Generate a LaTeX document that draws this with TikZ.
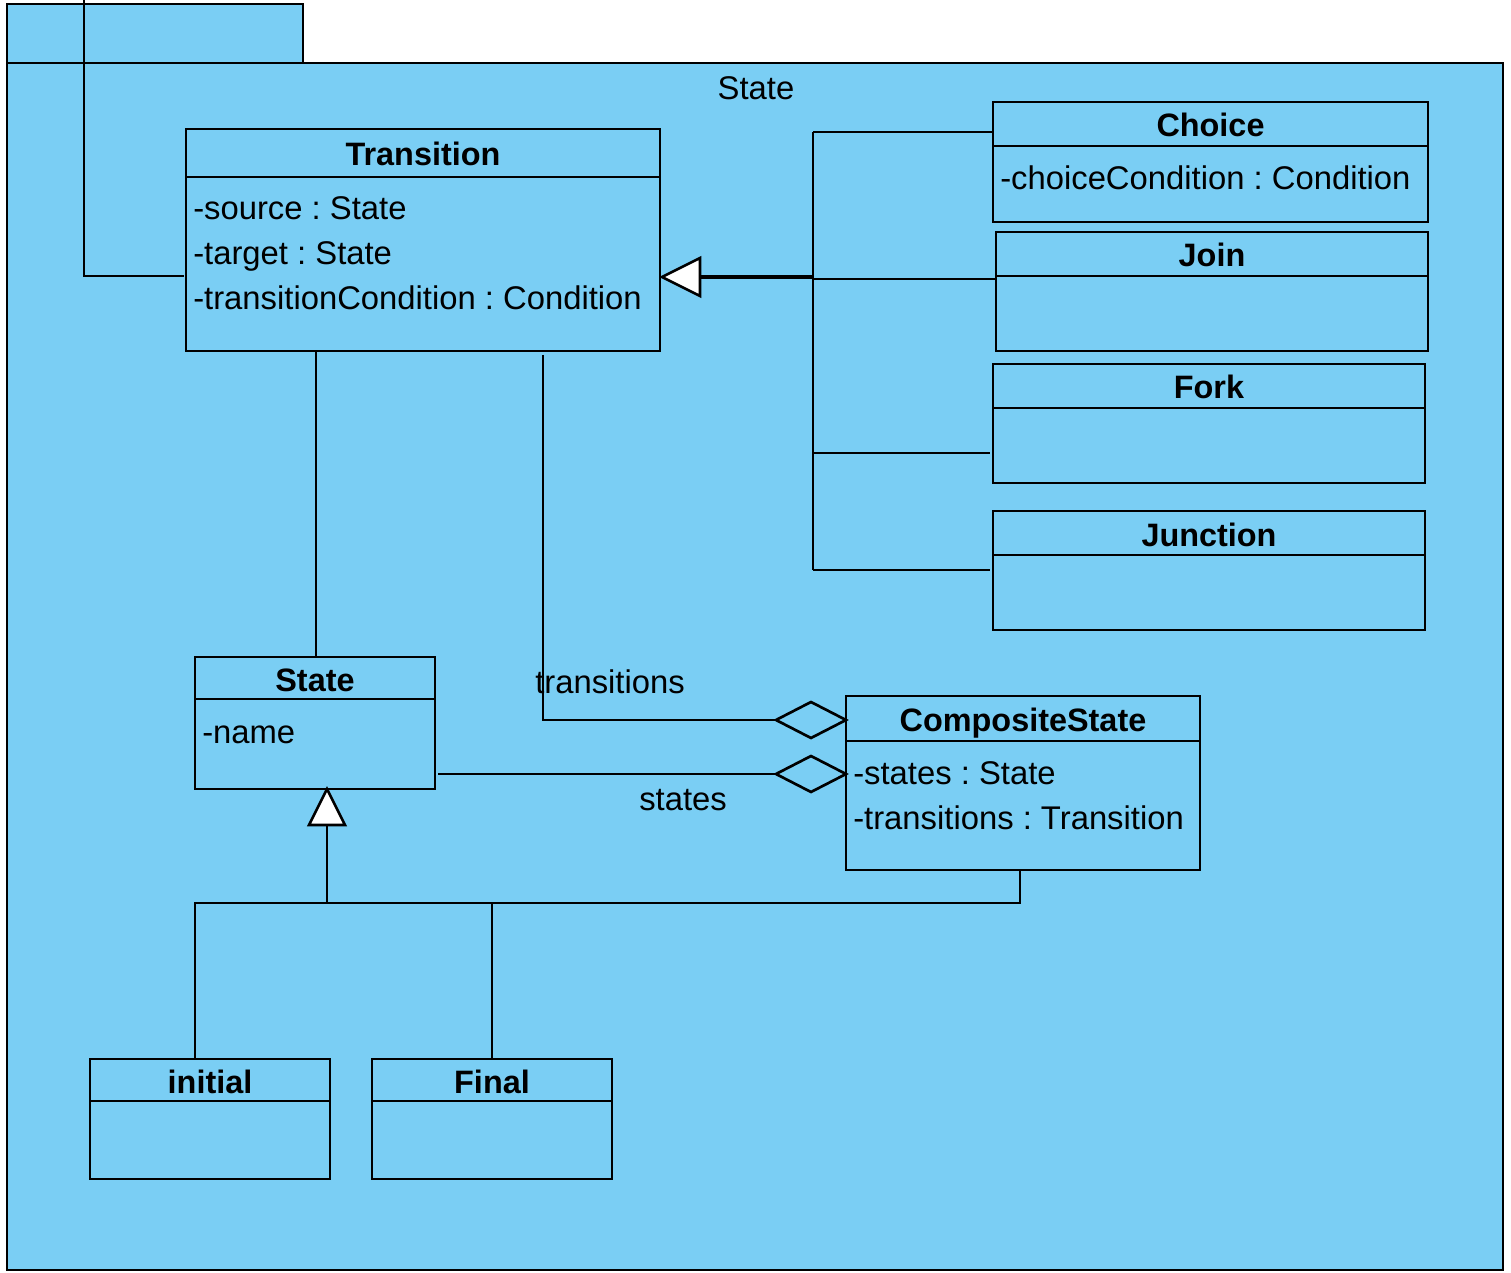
\documentclass[tikz,border=0pt]{standalone}
\usepackage{fontspec}
\setmainfont{Liberation Sans}
\frenchspacing
\usetikzlibrary{calc}
\definecolor{pkgblue}{RGB}{122,206,244}
\newcommand\umlclass[7]{%
  \node[classbox, minimum width={(#4-#2)*0.75pt}, minimum height={(#5-#3)*0.75pt}, anchor=north west] (#1) at (#2,#3) {};
  \draw[lw] (#2,#6) -- (#4,#6);
  \node[titletext] (#1-title) at ({(#2+#4)/2},{(#3+#6)/2+13}) {#7};
}
\begin{document}
\begin{tikzpicture}[x=0.75pt,y=-0.75pt,
  lw/.style={line width=2pt, line join=miter},
  classbox/.style={draw, lw, fill=pkgblue, inner sep=0pt, outer sep=0pt},
  titletext/.style={font=\fontsize{24.3}{28}\selectfont\bfseries, anchor=base, inner sep=0pt},
  attrtext/.style={font=\fontsize{24.6}{28}\selectfont, anchor=base west, inner sep=0pt},
  lbltext/.style={font=\fontsize{24.6}{28}\selectfont, anchor=base, inner sep=0pt},
  conn/.style={draw, lw},
  hollow/.style={draw, lw, fill=pkgblue},
  gentri/.style={draw, lw, fill=white}]
\useasboundingbox (0,0) rectangle (1511,1273);
% package
\path[draw, lw, fill=pkgblue] (7,4) rectangle (303,63);
\path[draw, lw, fill=pkgblue] (7,63) rectangle (1503,1270);
\node[lbltext] (pkgname) at (756,100) {State};
% classes
\umlclass{trans}{186}{129}{660}{351}{177}{Transition}
\node[attrtext] (trans-a1) at (193,220) {-source : State};
\node[attrtext] (trans-a2) at (193,265) {-target : State};
\node[attrtext] (trans-a3) at (193,310) {-transitionCondition : Condition};
\umlclass{choice}{993}{102}{1428}{222}{146}{Choice}
\node[attrtext] (choice-a1) at (1000,190) {-choiceCondition : Condition};
\umlclass{join}{996}{232}{1428}{351}{276}{Join}
\umlclass{fork}{993}{364}{1425}{483}{408}{Fork}
\umlclass{junction}{993}{511}{1425}{630}{555}{Junction}
\umlclass{state}{195}{657}{435}{789}{699}{State}
\node[attrtext] (state-a1) at (202,743) {-name};
\umlclass{comp}{846}{696}{1200}{870}{741}{CompositeState}
\node[attrtext] (comp-a1) at (853,784) {-states : State};
\node[attrtext] (comp-a2) at (853,829) {-transitions : Transition};
\umlclass{initial}{90}{1059}{330}{1179}{1101}{initial}
\umlclass{final}{372}{1059}{612}{1179}{1101}{Final}
% self association leaving the top
\coordinate (selftop) at (84,0);
\coordinate (selfbend) at (84,276);
\draw[conn] (selftop) -- (selfbend) -- ($(selfbend -| trans.west)+(-2,0)$);
% Transition -- State
\draw[conn] ($(trans.south west)+(130,0)$) -- ($(state.north west)+(121,0)$);
% transitions aggregation
\coordinate (tr0) at ($(trans.south west)+(357,4)$);
\coordinate (trtip) at ($(comp.north west)+(0,24)$);
\coordinate (trdl) at ($(trtip)+(-70,0)$);
\draw[conn] (tr0) -- (tr0 |- trtip) -- (trdl);
\path[hollow] (trtip) -- ++(-35,-18) -- ++(-35,18) -- ++(35,18) -- cycle;
\node[lbltext] (trlbl) at (610,693) {transitions};
% states aggregation
\coordinate (st0) at ($(state.south east)+(3,-15)$);
\coordinate (sttip) at (st0 -| comp.west);
\coordinate (stdl) at ($(sttip)+(-70,0)$);
\draw[conn] (st0) -- (stdl);
\path[hollow] (sttip) -- ++(-35,-18) -- ++(-35,18) -- ++(35,18) -- cycle;
\node[lbltext] (stlbl) at (683,810) {states};
% generalization to State
\coordinate (sgtip) at ($(state.south west)+(132,0)$);
\coordinate (sgbase) at ($(sgtip)+(0,36)$);
\coordinate (sgjoin) at (327,903);
\coordinate (compbot) at ($(comp.south)+(-3,0)$);
\draw[conn] (sgbase) -- (sgjoin);
\draw[conn] (initial.north -| state.west) |- (sgjoin) -- (sgjoin -| compbot) -- (compbot);
\draw[conn] (final.north) -- (final.north |- sgjoin);
\path[gentri] (sgtip) -- ($(sgbase)+(-18,0)$) -- ($(sgbase)+(18,0)$) -- cycle;
% generalization to Transition
\coordinate (tgtip) at ($(trans.east)+(2,37)$);
\coordinate (tgbase) at ($(tgtip)+(38,0)$);
\coordinate (tgtree) at (813,277);
\draw[line width=3.3pt] (tgtree) -- (tgbase);
\path[gentri] (tgtip) -- ($(tgbase)+(0,-19)$) -- ($(tgbase)+(0,19)$) -- cycle;
\coordinate (treetop) at (813,132);
\coordinate (treebot) at (813,570);
\draw[conn] (treetop) -- (treebot);
\draw[conn] (treetop) -- (treetop -| choice.west);
\draw[conn] (813,279) -- (813,279 -| join.west);
\draw[conn] (813,453) -- ($(813,453 -| fork.west)+(-3,0)$);
\draw[conn] (treebot) -- ($(treebot -| junction.west)+(-3,0)$);
\end{tikzpicture}
\end{document}
